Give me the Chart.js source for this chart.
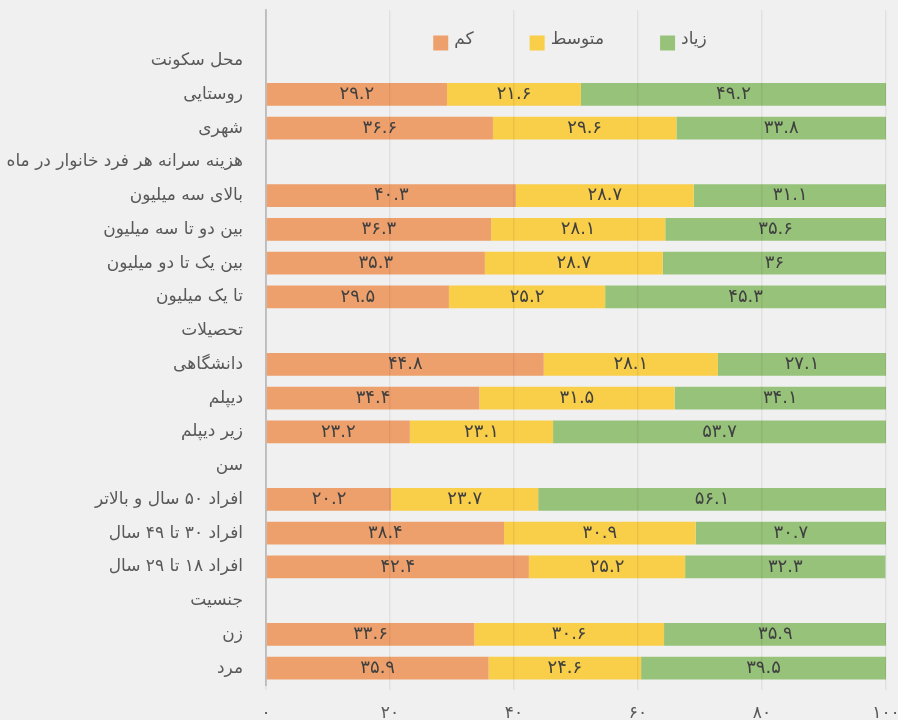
<!DOCTYPE html>
<html>
<head>
<meta charset="utf-8">
<script src="https://cdn.jsdelivr.net/npm/chart.js@4.4.1/dist/chart.umd.min.js"></script>
<style>
  html, body { margin: 0; padding: 0; background: #f0f0f0; overflow: hidden; }
  #wrap { width: 898px; height: 740px; position: relative; }
</style>
</head>
<body>
<div id="wrap"><canvas id="chart"></canvas></div>
<script>
// first empty row leaves room for the legend
const categories = ['', 'محل سکونت', 'روستایی', 'شهری', 'هزینه سرانه هر فرد خانوار در ماه',
    'بالای سه میلیون', 'بین دو تا سه میلیون', 'بین یک تا دو میلیون', 'تا یک میلیون',
    'تحصیلات', 'دانشگاهی', 'دیپلم', 'زیر دیپلم',
    'سن', 'افراد ۵۰ سال و بالاتر', 'افراد ۳۰ تا ۴۹ سال', 'افراد ۱۸ تا ۲۹ سال',
    'جنسیت', 'زن', 'مرد'];
const seriesNames = ['کم', 'متوسط', 'زیاد'];
const lowValues  = [null, null, 29.2, 36.6, null, 40.3, 36.3, 35.3, 29.5, null, 44.8, 34.4, 23.2, null, 20.2, 38.4, 42.4, null, 33.6, 35.9];
const midValues  = [null, null, 21.6, 29.6, null, 28.7, 28.1, 28.7, 25.2, null, 28.1, 31.5, 23.1, null, 23.7, 30.9, 25.2, null, 30.6, 24.6];
const highValues = [null, null, 49.2, 33.8, null, 31.1, 35.6, 36, 45.3, null, 27.1, 34.1, 53.7, null, 56.1, 30.7, 32.3, null, 35.9, 39.5];
const xTickLabels = ['۰', '۲۰', '۴۰', '۶۰', '۸۰', '۱۰۰'];
const colors = ['#EDA06B', '#F9CE48', '#97C27A'];

const FONT = "'DejaVu Sans', sans-serif";
const faDigits = '۰۱۲۳۴۵۶۷۸۹';

function toFa(v) {
    return String(v).replace(/[0-9]/g, function (c) { return faDigits[+c]; });
}

const barLabels = {
    id: 'barLabels',
    afterDatasetsDraw(chart) {
        const ctx = chart.ctx;
        ctx.save();
        ctx.font = '18px ' + FONT;
        ctx.fillStyle = '#404040';
        ctx.textAlign = 'center';
        ctx.textBaseline = 'middle';
        chart.data.datasets.forEach(function (ds, i) {
            const meta = chart.getDatasetMeta(i);
            meta.data.forEach(function (bar, j) {
                const v = ds.data[j];
                if (v == null) return;
                ctx.fillText(toFa(v), (bar.x + bar.base) / 2, bar.y);
            });
        });
        ctx.restore();
    }
};

// legend drawn inside the empty top row
const topLegend = {
    id: 'topLegend',
    afterDraw(chart) {
        const ctx = chart.ctx;
        const area = chart.chartArea;
        const box = 15, gap = 6, spacing = 56, y = 43;
        ctx.save();
        ctx.font = '17px ' + FONT;
        const widths = chart.data.datasets.map(function (ds) {
            return box + gap + ctx.measureText(ds.label).width;
        });
        const total = widths.reduce(function (a, b) { return a + b; }, 0) + spacing * (widths.length - 1);
        let x = (area.left + area.right) / 2 - 6 - total / 2;
        ctx.textBaseline = 'middle';
        ctx.textAlign = 'left';
        chart.data.datasets.forEach(function (ds, i) {
            ctx.fillStyle = ds.backgroundColor;
            ctx.fillRect(x, y - box / 2, box, box);
            ctx.fillStyle = '#555';
            ctx.fillText(ds.label, x + box + gap, y - 3);
            x += widths[i] + spacing;
        });
        ctx.restore();
    }
};

new Chart(document.getElementById('chart'), {
    type: 'bar',
    data: {
        labels: categories,
        datasets: [
            { label: seriesNames[0], data: lowValues, backgroundColor: colors[0] },
            { label: seriesNames[1], data: midValues, backgroundColor: colors[1] },
            { label: seriesNames[2], data: highValues, backgroundColor: colors[2] }
        ]
    },
    options: {
        indexAxis: 'y',
        responsive: true,
        maintainAspectRatio: false,
        animation: false,
        barPercentage: 0.667,
        categoryPercentage: 1,
        layout: { padding: { top: 10, right: 12, left: 0, bottom: 0 } },
        plugins: {
            legend: { display: false },
            tooltip: { enabled: false }
        },
        scales: {
            x: {
                stacked: true,
                min: 0,
                max: 100,
                ticks: {
                    stepSize: 20,
                    padding: 13,
                    color: '#595959',
                    font: { family: FONT, size: 17 },
                    callback: function (v, i) { return xTickLabels[i]; }
                },
                grid: { color: 'rgba(0,0,0,0.06)', lineWidth: 1.5, tickLength: 5, z: 1 },
                border: { display: false },
                afterFit: function (s) { s.height = 55; s.paddingLeft = 0; s.paddingRight = 0; }
            },
            y: {
                stacked: true,
                ticks: {
                    padding: 23,
                    color: '#595959',
                    font: { family: FONT, size: 17 }
                },
                grid: { display: false, drawTicks: false },
                border: { display: true, color: '#c8c8c8', width: 2 },
                afterFit: function (s) { s.width = 266; s.paddingTop = 0; s.paddingBottom = 0; }
            }
        }
    },
    plugins: [barLabels, topLegend]
});
</script>
</body>
</html>
